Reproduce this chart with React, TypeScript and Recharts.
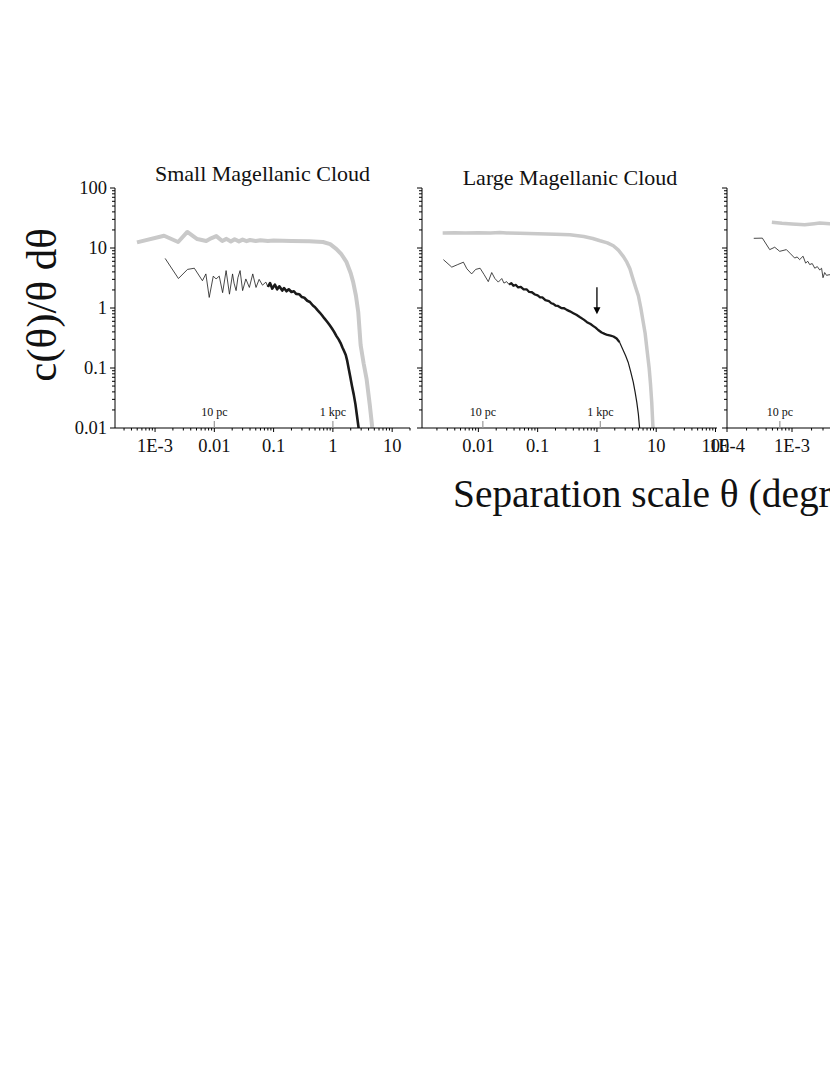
import React from "react";
import { LineChart, Line, XAxis, YAxis, ReferenceDot } from "recharts";

type Pt = [number, number];

// ---------- data (x = separation in degrees, y = c(θ)/θ dθ) ----------
const smcSmooth: Pt[] = [
  [0.000495, 12.4], [0.00142, 16], [0.00245, 12.6], [0.0035, 18.5], [0.00515, 14.1],
  [0.0073, 13.1], [0.0088, 14.5], [0.0108, 15.8], [0.0136, 13.1], [0.016, 14.2],
  [0.019, 12.8], [0.022, 14.0], [0.026, 12.9], [0.03, 13.8], [0.035, 13.0],
  [0.04, 13.6], [0.05, 13.1], [0.06, 13.5], [0.08, 13.1], [0.1, 13.3], [0.2, 13.1],
  [0.4, 12.9], [0.68, 12.6], [0.9, 11.6], [1.15, 9.6], [1.4, 7.8], [1.7, 5.8],
  [2.0, 3.8], [2.2, 2.7], [2.45, 1.6], [2.68, 0.85], [2.94, 0.24], [3.3, 0.12],
  [3.7, 0.066], [4.2, 0.024], [4.6, 0.0105], [4.7, 0.009],
];
const smcSparse: Pt[] = [
  [0.00148, 6.7], [0.00248, 3.1], [0.00353, 4.4], [0.0046, 4.6], [0.0063, 2.85],
  [0.0072, 3.7], [0.0082, 1.5], [0.0096, 3.4], [0.0107, 3.05], [0.0121, 3.4],
  [0.0138, 1.8], [0.0158, 4.2], [0.018, 1.7], [0.0203, 3.7], [0.0215, 2.6],
  [0.0233, 1.95], [0.025, 3.2], [0.0272, 4.2], [0.03, 1.95], [0.034, 3.05],
  [0.039, 2.2], [0.0445, 3.7], [0.0505, 2.2], [0.057, 3.0], [0.065, 2.4],
  [0.074, 2.7], [0.08, 2.25],
];
const smcDense: Pt[] = [
  [0.08, 2.25], [0.087, 2.6], [0.095, 2.1], [0.105, 2.45], [0.115, 2.05], [0.125, 2.3],
  [0.14, 1.95], [0.15, 2.15], [0.165, 1.9], [0.18, 2.05], [0.2, 1.85], [0.22, 1.9],
  [0.24, 1.72], [0.27, 1.7], [0.3, 1.52], [0.33, 1.48], [0.37, 1.32], [0.41, 1.26],
  [0.46, 1.1], [0.5, 1.03], [0.55, 0.92], [0.6, 0.84], [0.66, 0.75], [0.72, 0.67],
  [0.8, 0.59], [0.88, 0.52], [0.96, 0.46], [1.05, 0.4], [1.15, 0.34], [1.25, 0.3],
  [1.35, 0.26], [1.45, 0.22], [1.55, 0.19], [1.65, 0.165], [1.75, 0.13], [1.85, 0.097],
  [1.95, 0.074], [2.1, 0.05], [2.25, 0.036], [2.4, 0.025], [2.55, 0.016], [2.7, 0.0105],
  [2.75, 0.009],
];

const lmcSmooth: Pt[] = [
  [0.0025, 17.8], [0.004, 17.9], [0.006, 17.7], [0.01, 17.9], [0.016, 17.8],
  [0.023, 18.2], [0.03, 17.8], [0.05, 17.6], [0.1, 17.3], [0.2, 17.0], [0.35, 16.6],
  [0.6, 15.5], [0.85, 14.4], [1.13, 13.2], [1.5, 12.2], [1.89, 10.9], [2.3, 9.2],
  [2.8, 7.2], [3.2, 5.8], [3.6, 4.5], [4.0, 3.2], [4.5, 2.2], [5.0, 1.6], [5.5, 1.0],
  [6.0, 0.6], [6.5, 0.38], [7.0, 0.2], [7.6, 0.1], [8.0, 0.055], [8.4, 0.027],
  [8.8, 0.0105], [8.9, 0.009],
];
const lmcSparse: Pt[] = [
  [0.00257, 6.4], [0.00356, 4.8], [0.0045, 5.3], [0.0056, 5.8], [0.0064, 4.5],
  [0.0077, 3.7], [0.009, 4.4], [0.0107, 4.6], [0.0125, 3.6], [0.0147, 2.75],
  [0.0168, 3.9], [0.019, 3.1], [0.0217, 2.7], [0.0248, 3.1], [0.027, 2.6],
  [0.03, 2.75], [0.033, 2.45],
];
const lmcDense: Pt[] = [
  [0.033, 2.45], [0.036, 2.6], [0.039, 2.35], [0.043, 2.42], [0.047, 2.2], [0.052, 2.25],
  [0.058, 2.05], [0.065, 2.05], [0.072, 1.85], [0.08, 1.83], [0.09, 1.68], [0.1, 1.62],
  [0.11, 1.5], [0.12, 1.5], [0.135, 1.35], [0.155, 1.3], [0.17, 1.2], [0.184, 1.17],
  [0.2, 1.1], [0.22, 1.08], [0.25, 1.0], [0.28, 0.99], [0.31, 0.93], [0.35, 0.88],
  [0.4, 0.82], [0.45, 0.77], [0.52, 0.7], [0.6, 0.64], [0.68, 0.58], [0.78, 0.54],
  [0.87, 0.5], [0.95, 0.47], [1.05, 0.43], [1.2, 0.39], [1.35, 0.37], [1.5, 0.355],
  [1.7, 0.345], [1.9, 0.335], [2.15, 0.31], [2.4, 0.27],
];
const lmcTail: Pt[] = [
  [2.4, 0.27], [2.76, 0.2], [3.05, 0.16], [3.36, 0.125], [3.7, 0.088], [4.1, 0.058],
  [4.4, 0.04], [4.7, 0.027], [5.0, 0.017], [5.2, 0.011], [5.3, 0.009],
];

const thirdSmooth: Pt[] = [
  [0.00049, 26.8], [0.0007, 25.8], [0.001, 25.2], [0.00157, 24.4], [0.0022, 25.4],
  [0.00267, 26], [0.0038, 25.4], [0.0045, 25.2],
];
const thirdSparse: Pt[] = [
  [0.000258, 14.5], [0.00035, 14.6], [0.000454, 9.4], [0.000542, 10.3], [0.000647, 8.8],
  [0.00082, 9.4], [0.00095, 8.0], [0.0011, 6.8], [0.0012, 7.1], [0.00131, 6.4],
  [0.00148, 7.3], [0.00162, 5.6], [0.00175, 6.0], [0.00187, 5.3], [0.00205, 5.5],
  [0.00224, 4.6], [0.00245, 4.9], [0.00267, 4.3], [0.00285, 4.6], [0.003, 3.2],
  [0.00318, 3.9], [0.0034, 3.5], [0.0038, 3.6], [0.0042, 3.1],
];

// ---------- ticks & labels ----------
const yTickValues = [0.01, 0.1, 1, 10, 100];
const yTickLabels = ["0.01", "0.1", "1", "10", "100"];
const smcXTickValues = [0.001, 0.01, 0.1, 1, 10];
const smcXTickLabels = ["1E-3", "0.01", "0.1", "1", "10"];
const lmcXTickValues = [0.01, 0.1, 1, 10, 100];
const lmcXTickLabels = ["0.01", "0.1", "1", "10", "100"];
const thirdXTickValues = [0.0001, 0.001, 0.01, 0.1, 1];
const thirdXTickLabels = ["1E-4", "1E-3", "0.01", "0.1", "1"];

const smcScaleMarks: Pt[] = [[0.01, 0.01], [1, 0.01]];
const lmcScaleMarks: Pt[] = [[0.0119, 0.01], [1.14, 0.01]];
const thirdScaleMarks: Pt[] = [[0.00065, 0.01]];
const scaleMarkLabels = ["10 pc", "1 kpc"];
const lmcArrowAt: Pt = [1, 0.79];

const titles = ["Small Magellanic Cloud", "Large Magellanic Cloud"];
const yLabel = "c(θ)/θ dθ";
const xLabel = "Separation scale θ (degrees)";

// ---------- styling ----------
const SERIF = "'Liberation Serif', 'Times New Roman', serif";
const GREY = "#c9c9c9";
const BLACK = "#1a1a1a";

const PLOT_TOP = 188;
const PLOT_H = 240;
const Y_AXIS_W = 60;
const X_AXIS_H = 40;
const M_TOP = 16;
const M_RIGHT = 20;

const toObj = (pts: Pt[]) => pts.map(([x, y]) => ({ x, y }));

const isDecade = (v: number) => Math.abs(Math.log10(v) - Math.round(Math.log10(v))) < 1e-6;

const logTicks = (lo: number, hi: number) => {
  const out: number[] = [];
  for (let e = -5; e <= 3; e++) {
    for (let m = 1; m <= 9; m++) {
      const v = m * Math.pow(10, e);
      if (v >= lo * 0.999 && v <= hi * 1.001) out.push(v);
    }
  }
  return out;
};

const findLabel = (vals: number[], labels: string[], v: number) => {
  const i = vals.findIndex((t) => Math.abs(Math.log10(t) - Math.log10(v)) < 1e-6);
  return i >= 0 ? labels[i] : null;
};

const makeXTick = (vals: number[], labels: string[]) => (props: any) => {
  const { x, y, payload } = props;
  const v = payload.value;
  const major = isDecade(v);
  const lab = major ? findLabel(vals, labels, v) : null;
  return (
    <g>
      <line x1={x} x2={x} y1={y} y2={y + (major ? 4 : 2.5)} stroke="#000" strokeWidth={1} />
      {lab ? (
        <text x={x} y={y + 24} textAnchor="middle" fontSize={18.5} fontFamily={SERIF} fill="#111">
          {lab}
        </text>
      ) : null}
    </g>
  );
};

const makeYTick = (showLabels: boolean) => (props: any) => {
  const { x, y, payload } = props;
  const v = payload.value;
  const major = isDecade(v);
  const lab = major && showLabels ? findLabel(yTickValues, yTickLabels, v) : null;
  return (
    <g>
      <line x1={x} x2={x - (major ? 5 : 3)} y1={y} y2={y} stroke="#000" strokeWidth={1} />
      {lab ? (
        <text x={x - 8} y={y + 6} textAnchor="end" fontSize={18.5} fontFamily={SERIF} fill="#111">
          {lab}
        </text>
      ) : null}
    </g>
  );
};

const scaleMarkShape = (label: string) => (p: any) => (
  <g>
    <line x1={p.cx} x2={p.cx} y1={p.cy} y2={p.cy - 7} stroke="#9a9a9a" strokeWidth={1.2} />
    <text x={p.cx} y={p.cy - 12} textAnchor="middle" fontSize={12} fontFamily={SERIF} fill="#111">
      {label}
    </text>
  </g>
);

const arrowShape = (p: any) => (
  <g>
    <line x1={p.cx} x2={p.cx} y1={p.cy - 27} y2={p.cy - 5} stroke="#000" strokeWidth={1.3} />
    <path d={`M ${p.cx - 3.5} ${p.cy - 7} L ${p.cx + 3.5} ${p.cy - 7} L ${p.cx} ${p.cy} Z`} fill="#000" />
  </g>
);

type Series = { pts: Pt[]; color: string; width: number };

type PanelProps = {
  plotLeft: number;
  plotWidth: number;
  domain: [number, number];
  xVals: number[];
  xLabels: string[];
  showYLabels: boolean;
  series: Series[];
  marks: Pt[];
  arrow?: Pt;
};

const yAllTicks = logTicks(0.01, 100);

function Panel(props: PanelProps) {
  const { plotLeft, plotWidth, domain, xVals, xLabels, showYLabels, series, marks, arrow } = props;
  const width = Y_AXIS_W + plotWidth + M_RIGHT;
  const height = M_TOP + PLOT_H + X_AXIS_H;
  return (
    <div style={{ position: "absolute", left: plotLeft - Y_AXIS_W, top: PLOT_TOP - M_TOP, width, height }}>
      <LineChart width={width} height={height} margin={{ top: M_TOP, right: M_RIGHT, bottom: 0, left: 0 }}>
        <XAxis
          dataKey="x"
          type="number"
          scale="log"
          domain={domain}
          allowDataOverflow
          ticks={logTicks(domain[0], domain[1])}
          interval={0}
          tickSize={0}
          tickMargin={0}
          tickLine={false}
          height={X_AXIS_H}
          axisLine={{ stroke: "#000", strokeWidth: 1 }}
          tick={makeXTick(xVals, xLabels)}
        />
        <YAxis
          dataKey="y"
          type="number"
          scale="log"
          domain={[0.01, 100]}
          allowDataOverflow
          ticks={yAllTicks}
          interval={0}
          tickSize={0}
          tickMargin={0}
          tickLine={false}
          width={Y_AXIS_W}
          axisLine={{ stroke: "#000", strokeWidth: 1 }}
          tick={makeYTick(showYLabels)}
        />
        {series.map((s, i) => (
          <Line
            key={i}
            data={toObj(s.pts)}
            dataKey="y"
            type="linear"
            stroke={s.color}
            strokeWidth={s.width}
            strokeLinejoin="round"
            dot={false}
            activeDot={false}
            isAnimationActive={false}
          />
        ))}
        {marks.map((m, i) => (
          <ReferenceDot
            key={"m" + i}
            x={m[0]}
            y={m[1]}
            r={0}
            ifOverflow="visible"
            shape={scaleMarkShape(scaleMarkLabels[i])}
          />
        ))}
        {arrow ? (
          <ReferenceDot x={arrow[0]} y={arrow[1]} r={0} ifOverflow="visible" shape={arrowShape} />
        ) : null}
      </LineChart>
    </div>
  );
}

export default function App() {
  return (
    <div
      style={{
        position: "absolute",
        left: 0,
        top: 0,
        width: 830,
        height: 1075,
        overflow: "hidden",
        background: "#fff",
        fontFamily: SERIF,
      }}
    >
      <Panel
        plotLeft={115}
        plotWidth={295}
        domain={[2.11e-4, 20]}
        xVals={smcXTickValues}
        xLabels={smcXTickLabels}
        showYLabels
        series={[
          { pts: smcSmooth, color: GREY, width: 4 },
          { pts: smcSparse, color: BLACK, width: 0.8 },
          { pts: smcDense, color: BLACK, width: 2.6 },
        ]}
        marks={smcScaleMarks}
      />
      <Panel
        plotLeft={422}
        plotWidth={295}
        domain={[1.12e-3, 106]}
        xVals={lmcXTickValues}
        xLabels={lmcXTickLabels}
        showYLabels={false}
        series={[
          { pts: lmcSmooth, color: GREY, width: 3.5 },
          { pts: lmcSparse, color: BLACK, width: 0.8 },
          { pts: lmcDense, color: BLACK, width: 2.3 },
          { pts: lmcTail, color: BLACK, width: 1.2 },
        ]}
        marks={lmcScaleMarks}
        arrow={lmcArrowAt}
      />
      <Panel
        plotLeft={727}
        plotWidth={260}
        domain={[1e-4, 1]}
        xVals={thirdXTickValues}
        xLabels={thirdXTickLabels}
        showYLabels={false}
        series={[
          { pts: thirdSmooth, color: GREY, width: 3.5 },
          { pts: thirdSparse, color: BLACK, width: 0.8 },
        ]}
        marks={thirdScaleMarks}
      />
      <svg
        width={830}
        height={1075}
        style={{ position: "absolute", left: 0, top: 0, pointerEvents: "none" }}
      >
        <text x={262.5} y={181} textAnchor="middle" fontSize={22} fontFamily={SERIF} fill="#111">
          {titles[0]}
        </text>
        <text x={570} y={184.5} textAnchor="middle" fontSize={22} fontFamily={SERIF} fill="#111">
          {titles[1]}
        </text>
        <text
          transform="translate(56,305) rotate(-90)"
          textAnchor="middle"
          fontSize={43}
          fontFamily={SERIF}
          fill="#111"
        >
          {yLabel}
        </text>
        <text x={453} y={507} fontSize={39.4} fontFamily={SERIF} fill="#111">
          {xLabel}
        </text>
      </svg>
    </div>
  );
}
